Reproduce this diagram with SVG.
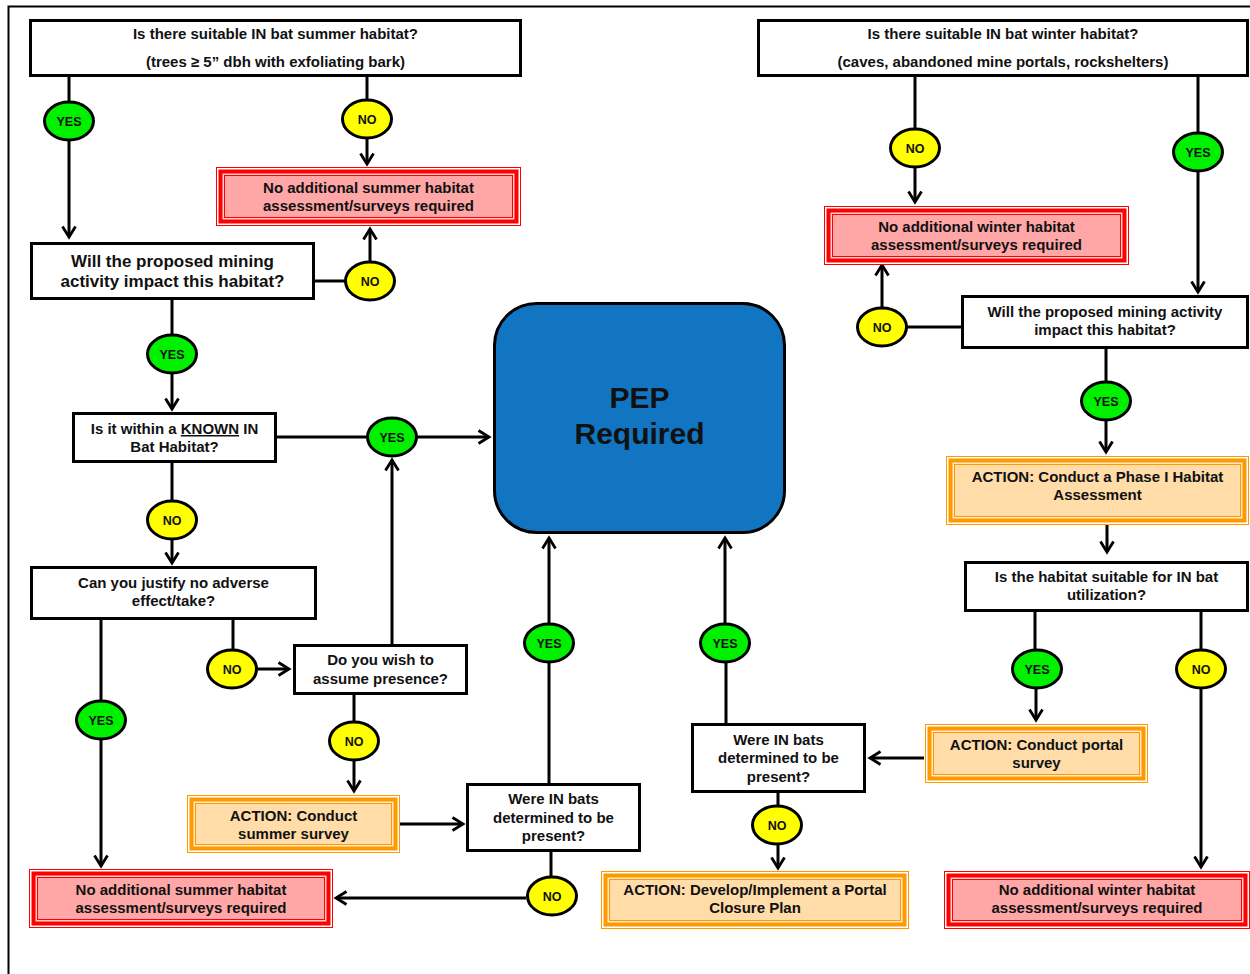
<svg xmlns="http://www.w3.org/2000/svg" width="1250" height="974" viewBox="0 0 1250 974">
<style>
text{font-family:"Liberation Sans",Arial,sans-serif;font-weight:bold;fill:#111;text-anchor:middle}
.t15{font-size:15px}
.t17{font-size:17px}
.lab{font-size:12.5px}
.pep{font-size:30px}
.box{fill:#fff;stroke:#000;stroke-width:3}
.yes{fill:#00F000;stroke:#000;stroke-width:3}
.no{fill:#FFFF00;stroke:#000;stroke-width:3}
.r1{fill:#fff;stroke:#FF0000;stroke-width:1}
.r2{fill:#FFD0D0;stroke:#FF0000;stroke-width:4}
.r3{fill:#FFA6A6;stroke:#FF0000;stroke-width:1}
.o1{fill:#fff;stroke:#FF9900;stroke-width:1}
.o2{fill:#FFEBCC;stroke:#FF9900;stroke-width:4}
.o3{fill:#FFDCA8;stroke:#FF9900;stroke-width:1}
.c{fill:none;stroke:#000;stroke-width:3}
.a{fill:none;stroke:#000;stroke-width:3;marker-end:url(#ah)}
</style>
<defs>
<marker id="ah" viewBox="0 0 16 16" refX="12" refY="8" markerWidth="16" markerHeight="16" markerUnits="userSpaceOnUse" orient="auto">
<path d="M1.5,1.5 L12,8 L1.5,14.5" fill="none" stroke="#000" stroke-width="2.8"/>
</marker>
</defs>
<rect width="1250" height="974" fill="#fff"/>
<path d="M8.5,974 V6.5 H1250" fill="none" stroke="#000" stroke-width="2"/>

<g id="connectors">
<path class="c" d="M69,77 V101"/>
<path class="a" d="M69,141 V237"/>
<path class="c" d="M367,77 V99"/>
<path class="a" d="M367,139 V164"/>
<path class="c" d="M315,281 H345"/>
<path class="a" d="M370,261 V229"/>
<path class="c" d="M172,300 V334"/>
<path class="a" d="M172,374 V409"/>
<path class="c" d="M277,437 H367"/>
<path class="a" d="M417,437 H489"/>
<path class="c" d="M172,463 V500"/>
<path class="a" d="M172,540 V563"/>
<path class="c" d="M101,620 V700"/>
<path class="a" d="M101,740 V866"/>
<path class="c" d="M233,620 V649"/>
<path class="a" d="M258,669 H289"/>
<path class="a" d="M392,644 V460"/>
<path class="c" d="M354,695 V721"/>
<path class="a" d="M354,761 V791"/>
<path class="a" d="M400,824 H463"/>
<path class="c" d="M549,783 V663"/>
<path class="a" d="M549,623 V538"/>
<path class="c" d="M551,852 V876"/>
<path class="a" d="M526,898 H336"/>
<path class="c" d="M915,77 V128"/>
<path class="a" d="M915,168 V202"/>
<path class="c" d="M1198,77 V132"/>
<path class="a" d="M1198,172 V292"/>
<path class="c" d="M961,327 H907"/>
<path class="a" d="M882,307 V265"/>
<path class="c" d="M1106,349 V381"/>
<path class="a" d="M1106,421 V452"/>
<path class="a" d="M1107,525 V552"/>
<path class="c" d="M1035,612 V649"/>
<path class="a" d="M1036,689 V720"/>
<path class="c" d="M1201,612 V649"/>
<path class="a" d="M1201,689 V867"/>
<path class="a" d="M924,758 H870"/>
<path class="c" d="M726,724 V663"/>
<path class="a" d="M725,623 V538"/>
<path class="c" d="M778,793 V805"/>
<path class="a" d="M778,845 V868"/>
</g>

<g id="q-summer">
<rect class="box" x="30.5" y="20.5" width="490" height="55"/>
<text class="t15" x="275.5" y="39">Is there suitable IN bat summer habitat?</text>
<text class="t15" x="275.5" y="67">(trees ≥ 5” dbh with exfoliating bark)</text>
</g>
<g id="yes1"><ellipse class="yes" cx="69" cy="121" rx="24.5" ry="19"/><text class="lab" x="69" cy="0" y="125.5">YES</text></g>
<g id="no1"><ellipse class="no" cx="367" cy="119" rx="24.5" ry="19"/><text class="lab" x="367" y="123.5">NO</text></g>
<g id="red-summer-top">
<rect class="r1" x="216.5" y="167.5" width="304" height="58"/>
<rect class="r2" x="220.5" y="171.5" width="296" height="50"/>
<rect class="r3" x="224.5" y="175.5" width="288" height="42"/>
<text class="t15" x="368.5" y="193">No additional summer habitat</text>
<text class="t15" x="368.5" y="211">assessment/surveys required</text>
</g>
<g id="q-impact-summer">
<rect class="box" x="31.5" y="243.5" width="282" height="55"/>
<text class="t17" x="172.5" y="267">Will the proposed mining</text>
<text class="t17" x="172.5" y="287">activity impact this habitat?</text>
</g>
<g id="no2"><ellipse class="no" cx="370" cy="281" rx="24.5" ry="19"/><text class="lab" x="370" y="285.5">NO</text></g>
<g id="yes2"><ellipse class="yes" cx="172" cy="354" rx="24.5" ry="19"/><text class="lab" x="172" y="358.5">YES</text></g>
<g id="q-known">
<rect class="box" x="73.5" y="413.5" width="202" height="48"/>
<text class="t15" x="174.5" y="434">Is it within a <tspan style="text-decoration:underline">KNOWN</tspan> IN</text>
<text class="t15" x="174.5" y="452">Bat Habitat?</text>
</g>
<g id="yes3"><ellipse class="yes" cx="392" cy="437" rx="24.5" ry="19"/><text class="lab" x="392" y="441.5">YES</text></g>
<g id="no3"><ellipse class="no" cx="172" cy="520" rx="24.5" ry="19"/><text class="lab" x="172" y="524.5">NO</text></g>
<g id="pep">
<rect x="494.5" y="303.5" width="290" height="229" rx="42" ry="42" fill="#1275C1" stroke="#000" stroke-width="3"/>
<text class="pep" x="639.5" y="408">PEP</text>
<text class="pep" x="639.5" y="444">Required</text>
</g>
<g id="q-justify">
<rect class="box" x="31.5" y="567.5" width="284" height="51"/>
<text class="t15" x="173.5" y="588">Can you justify no adverse</text>
<text class="t15" x="173.5" y="606">effect/take?</text>
</g>
<g id="yes4"><ellipse class="yes" cx="101" cy="720" rx="24.5" ry="19"/><text class="lab" x="101" y="724.5">YES</text></g>
<g id="no4"><ellipse class="no" cx="232" cy="669" rx="24.5" ry="19"/><text class="lab" x="232" y="673.5">NO</text></g>
<g id="q-assume">
<rect class="box" x="294.5" y="645.5" width="172" height="48"/>
<text class="t15" x="380.5" y="665">Do you wish to</text>
<text class="t15" x="380.5" y="684">assume presence?</text>
</g>
<g id="no5"><ellipse class="no" cx="354" cy="741" rx="24.5" ry="19"/><text class="lab" x="354" y="745.5">NO</text></g>
<g id="act-summer">
<rect class="o1" x="187.5" y="795.5" width="212" height="57"/>
<rect class="o2" x="191.5" y="799.5" width="204" height="49"/>
<rect class="o3" x="195.5" y="803.5" width="196" height="41"/>
<text class="t15" x="293.5" y="821">ACTION: Conduct</text>
<text class="t15" x="293.5" y="839">summer survey</text>
</g>
<g id="q-present-summer">
<rect class="box" x="467.5" y="784.5" width="172" height="66"/>
<text class="t15" x="553.5" y="804">Were IN bats</text>
<text class="t15" x="553.5" y="823">determined to be</text>
<text class="t15" x="553.5" y="841">present?</text>
</g>
<g id="yes6"><ellipse class="yes" cx="549" cy="643" rx="24.5" ry="19"/><text class="lab" x="549" y="647.5">YES</text></g>
<g id="no6"><ellipse class="no" cx="552" cy="896" rx="24.5" ry="19"/><text class="lab" x="552" y="900.5">NO</text></g>
<g id="red-summer-bottom">
<rect class="r1" x="29.5" y="869.5" width="303" height="58"/>
<rect class="r2" x="33.5" y="873.5" width="295" height="50"/>
<rect class="r3" x="37.5" y="877.5" width="287" height="42"/>
<text class="t15" x="181" y="895">No additional summer habitat</text>
<text class="t15" x="181" y="913">assessment/surveys required</text>
</g>

<g id="q-winter">
<rect class="box" x="758.5" y="20.5" width="489" height="55"/>
<text class="t15" x="1003" y="39">Is there suitable IN bat winter habitat?</text>
<text class="t15" x="1003" y="67">(caves, abandoned mine portals, rockshelters)</text>
</g>
<g id="no7"><ellipse class="no" cx="915" cy="148" rx="24.5" ry="19"/><text class="lab" x="915" y="152.5">NO</text></g>
<g id="yes7"><ellipse class="yes" cx="1198" cy="152" rx="24.5" ry="19"/><text class="lab" x="1198" y="156.5">YES</text></g>
<g id="red-winter-top">
<rect class="r1" x="824.5" y="206.5" width="304" height="58"/>
<rect class="r2" x="828.5" y="210.5" width="296" height="50"/>
<rect class="r3" x="832.5" y="214.5" width="288" height="42"/>
<text class="t15" x="976.5" y="232">No additional winter habitat</text>
<text class="t15" x="976.5" y="250">assessment/surveys required</text>
</g>
<g id="q-impact-winter">
<rect class="box" x="962.5" y="296.5" width="285" height="51"/>
<text class="t15" x="1105" y="317">Will the proposed mining activity</text>
<text class="t15" x="1105" y="335">impact this habitat?</text>
</g>
<g id="no8"><ellipse class="no" cx="882" cy="327" rx="24.5" ry="19"/><text class="lab" x="882" y="331.5">NO</text></g>
<g id="yes8"><ellipse class="yes" cx="1106" cy="401" rx="24.5" ry="19"/><text class="lab" x="1106" y="405.5">YES</text></g>
<g id="act-phase1">
<rect class="o1" x="946.5" y="456.5" width="302" height="68"/>
<rect class="o2" x="950.5" y="460.5" width="294" height="60"/>
<rect class="o3" x="954.5" y="464.5" width="286" height="52"/>
<text class="t15" x="1097.5" y="482">ACTION: Conduct a Phase I Habitat</text>
<text class="t15" x="1097.5" y="500">Assessment</text>
</g>
<g id="q-suitable">
<rect class="box" x="965.5" y="562.5" width="282" height="48"/>
<text class="t15" x="1106.5" y="582">Is the habitat suitable for IN bat</text>
<text class="t15" x="1106.5" y="600">utilization?</text>
</g>
<g id="yes9"><ellipse class="yes" cx="1037" cy="669" rx="24.5" ry="19"/><text class="lab" x="1037" y="673.5">YES</text></g>
<g id="no9"><ellipse class="no" cx="1201" cy="669" rx="24.5" ry="19"/><text class="lab" x="1201" y="673.5">NO</text></g>
<g id="act-portal">
<rect class="o1" x="925.5" y="724.5" width="222" height="58"/>
<rect class="o2" x="929.5" y="728.5" width="214" height="50"/>
<rect class="o3" x="933.5" y="732.5" width="206" height="42"/>
<text class="t15" x="1036.5" y="750">ACTION: Conduct portal</text>
<text class="t15" x="1036.5" y="768">survey</text>
</g>
<g id="q-present-winter">
<rect class="box" x="692.5" y="724.5" width="172" height="67"/>
<text class="t15" x="778.5" y="745">Were IN bats</text>
<text class="t15" x="778.5" y="763">determined to be</text>
<text class="t15" x="778.5" y="782">present?</text>
</g>
<g id="yes10"><ellipse class="yes" cx="725" cy="643" rx="24.5" ry="19"/><text class="lab" x="725" y="647.5">YES</text></g>
<g id="no10"><ellipse class="no" cx="777" cy="825" rx="24.5" ry="19"/><text class="lab" x="777" y="829.5">NO</text></g>
<g id="act-closure">
<rect class="o1" x="601.5" y="871.5" width="307" height="57"/>
<rect class="o2" x="605.5" y="875.5" width="299" height="49"/>
<rect class="o3" x="609.5" y="879.5" width="291" height="41"/>
<text class="t15" x="755" y="895">ACTION: Develop/Implement a Portal</text>
<text class="t15" x="755" y="913">Closure Plan</text>
</g>
<g id="red-winter-bottom">
<rect class="r1" x="944.5" y="871.5" width="305" height="57"/>
<rect class="r2" x="948.5" y="875.5" width="297" height="49"/>
<rect class="r3" x="952.5" y="879.5" width="289" height="41"/>
<text class="t15" x="1097" y="895">No additional winter habitat</text>
<text class="t15" x="1097" y="913">assessment/surveys required</text>
</g>
</svg>
